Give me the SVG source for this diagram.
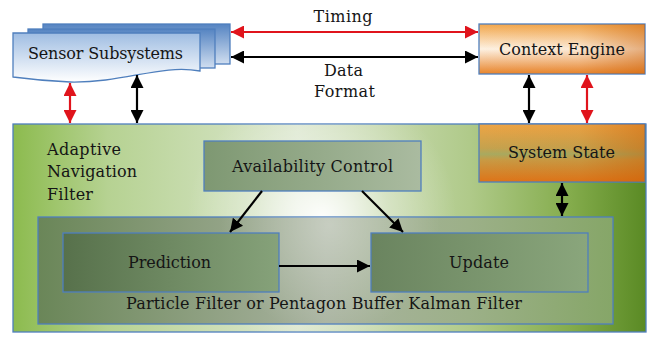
<svg xmlns="http://www.w3.org/2000/svg" width="652" height="337" viewBox="0 0 652 337">
<defs>
<style>
text{font-family:"DejaVu Serif","Liberation Serif",serif;font-size:16px;fill:#151515}
.c{text-anchor:middle}
.box{stroke:#4f7fbd;stroke-width:1.3}
.ln{fill:none;stroke-width:2.2}
.blk{stroke:#000}
.red{stroke:#e0141c}
</style>
<marker id="ab" viewBox="0 0 13 13" refX="13" refY="6.5" markerWidth="13" markerHeight="13" markerUnits="userSpaceOnUse" orient="auto-start-reverse"><path d="M0,0 L13,6.5 L0,13 z" fill="#000"/></marker>
<marker id="ar" viewBox="0 0 13 13" refX="13" refY="6.5" markerWidth="13" markerHeight="13" markerUnits="userSpaceOnUse" orient="auto-start-reverse"><path d="M0,0 L13,6.5 L0,13 z" fill="#e0141c"/></marker>
<linearGradient id="gFront" x1="0" y1="0" x2="0" y2="1"><stop offset="0" stop-color="#9fbde2"/><stop offset="1" stop-color="#ffffff"/></linearGradient>
<linearGradient id="gBack" x1="0" y1="0" x2="0" y2="1"><stop offset="0" stop-color="#5584c2"/><stop offset="1" stop-color="#d0def0"/></linearGradient>
<linearGradient id="gCtx" x1="0" y1="0" x2="0" y2="1"><stop offset="0" stop-color="#f2a64a"/><stop offset="0.5" stop-color="#fdf1e2"/><stop offset="1" stop-color="#e8842a"/></linearGradient>
<linearGradient id="gDarkR" x1="0" y1="0" x2="1" y2="0"><stop offset="0" stop-color="#c85a00" stop-opacity="0"/><stop offset="0.6" stop-color="#c85a00" stop-opacity="0.05"/><stop offset="1" stop-color="#c85a00" stop-opacity="0.45"/></linearGradient>
<linearGradient id="gSys" x1="0" y1="0" x2="0" y2="1"><stop offset="0" stop-color="#eea444"/><stop offset="0.42" stop-color="#c4a24e"/><stop offset="0.52" stop-color="#a8aa60"/><stop offset="0.62" stop-color="#c89a44"/><stop offset="1" stop-color="#de7418"/></linearGradient>
<linearGradient id="gMain" gradientUnits="userSpaceOnUse" x1="13" y1="0" x2="646" y2="0"><stop offset="0" stop-color="#8cbb4e"/><stop offset="0.15" stop-color="#b6d292"/><stop offset="0.45" stop-color="#dce7cf"/><stop offset="0.72" stop-color="#b0ca8a"/><stop offset="0.88" stop-color="#84ac4c"/><stop offset="1" stop-color="#5a8a24"/></linearGradient>
<radialGradient id="gHi" gradientUnits="userSpaceOnUse" cx="322" cy="218" r="135"><stop offset="0" stop-color="#ffffff" stop-opacity="0.95"/><stop offset="0.5" stop-color="#ffffff" stop-opacity="0.3"/><stop offset="1" stop-color="#ffffff" stop-opacity="0"/></radialGradient>
<linearGradient id="gInner" gradientUnits="userSpaceOnUse" x1="38" y1="0" x2="613" y2="0"><stop offset="0" stop-color="#6a8658"/><stop offset="0.5" stop-color="#a9b3a0"/><stop offset="0.75" stop-color="#9cb088"/><stop offset="1" stop-color="#86a668"/></linearGradient>
<radialGradient id="gHi2" gradientUnits="userSpaceOnUse" cx="330" cy="225" r="110"><stop offset="0" stop-color="#ffffff" stop-opacity="0.35"/><stop offset="1" stop-color="#ffffff" stop-opacity="0"/></radialGradient>
<linearGradient id="gPred" x1="0" y1="0" x2="1" y2="0"><stop offset="0" stop-color="#57714b"/><stop offset="1" stop-color="#86a27a"/></linearGradient>
<linearGradient id="gUpd" x1="0" y1="0" x2="1" y2="0"><stop offset="0" stop-color="#6a845f"/><stop offset="1" stop-color="#8aa67c"/></linearGradient>
<linearGradient id="gAv" x1="0" y1="0" x2="1" y2="0"><stop offset="0" stop-color="#7e9872"/><stop offset="1" stop-color="#aabba0"/></linearGradient>
</defs>
<rect width="652" height="337" fill="#ffffff"/>

<g id="adaptive-navigation-filter">
<rect class="box" x="13" y="124" width="633" height="208" fill="url(#gMain)" stroke="#7f9fcf"/>
<rect x="13" y="124" width="633" height="208" fill="url(#gHi)"/>
<text x="47" y="155" textLength="74">Adaptive</text>
<text x="47" y="177" textLength="90">Navigation</text>
<text x="47" y="200" textLength="46">Filter</text>
</g>

<g id="particle-filter">
<rect class="box" x="38" y="217" width="575" height="107" fill="url(#gInner)"/>
<rect x="38" y="217" width="575" height="107" fill="url(#gHi2)"/>
<text class="c" x="324" y="309" textLength="396">Particle Filter or Pentagon Buffer Kalman Filter</text>
</g>

<g id="sensor-subsystems">
<rect class="box" x="43" y="24" width="187" height="40" fill="url(#gBack)"/>
<rect class="box" x="28" y="29" width="187" height="39" fill="url(#gBack)"/>
<path class="box" d="M13,33 H200 V71 C160,64 125,83 70,82 C45,81 28,79 13,77 Z" fill="url(#gFront)"/>
<text class="c" x="105.5" y="59" textLength="155">Sensor Subsystems</text>
</g>

<g id="context-engine">
<rect class="box" x="479" y="24" width="166" height="50" fill="url(#gCtx)"/>
<rect x="479" y="24" width="166" height="50" fill="url(#gDarkR)"/>
<text class="c" x="562" y="55" textLength="126">Context Engine</text>
</g>

<g id="system-state">
<rect class="box" x="479" y="124" width="166" height="58" fill="url(#gSys)"/>
<rect x="479" y="124" width="166" height="58" fill="url(#gDarkR)"/>
<text class="c" x="561.5" y="158" textLength="107">System State</text>
</g>

<g id="availability-control">
<rect class="box" x="204" y="141" width="217" height="50" fill="url(#gAv)"/>
<text class="c" x="312.5" y="172" textLength="161">Availability Control</text>
</g>

<g id="prediction">
<rect class="box" x="63" y="233" width="216" height="59" fill="url(#gPred)"/>
<text class="c" x="169.5" y="268" textLength="83">Prediction</text>
</g>

<g id="update">
<rect class="box" x="371" y="233" width="217" height="59" fill="url(#gUpd)"/>
<text class="c" x="479" y="268" textLength="60">Update</text>
</g>

<g id="connectors">
<line class="ln red" x1="231" y1="32" x2="478" y2="32" marker-start="url(#ar)" marker-end="url(#ar)"/>
<line class="ln blk" x1="231" y1="57" x2="478" y2="57" marker-start="url(#ab)" marker-end="url(#ab)"/>
<line class="ln red" x1="70" y1="83" x2="70" y2="123" marker-start="url(#ar)" marker-end="url(#ar)"/>
<line class="ln blk" x1="137" y1="75" x2="137" y2="123" marker-start="url(#ab)" marker-end="url(#ab)"/>
<line class="ln blk" x1="529" y1="75" x2="529" y2="123" marker-start="url(#ab)" marker-end="url(#ab)"/>
<line class="ln red" x1="587" y1="75" x2="587" y2="123" marker-start="url(#ar)" marker-end="url(#ar)"/>
<line class="ln blk" x1="562" y1="183" x2="562" y2="216" marker-start="url(#ab)" marker-end="url(#ab)"/>
<line class="ln blk" x1="262" y1="191" x2="230" y2="232" marker-end="url(#ab)"/>
<line class="ln blk" x1="362" y1="191" x2="403" y2="232" marker-end="url(#ab)"/>
<line class="ln blk" x1="279" y1="266" x2="370" y2="266" marker-end="url(#ab)"/>
<text class="c" x="343" y="22" textLength="59">Timing</text>
<text class="c" x="343.5" y="76" textLength="39">Data</text>
<text class="c" x="344.5" y="97" textLength="61">Format</text>
</g>
</svg>
